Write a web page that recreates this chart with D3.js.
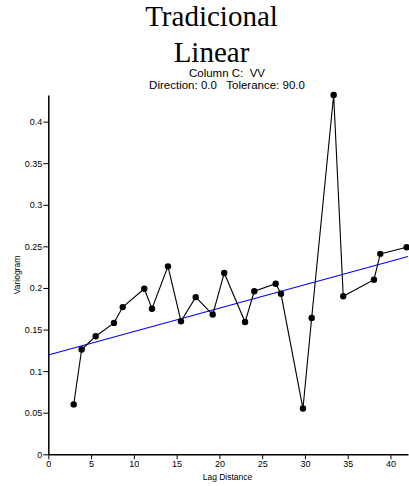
<!DOCTYPE html>
<html>
<head>
<meta charset="utf-8">
<script src="https://cdn.jsdelivr.net/npm/d3@7"></script>
<style>
  html, body { margin: 0; padding: 0; background: #fff; }
  svg { display: block; }
  .axis path, .axis line { stroke: #000; }
  .axis text { font-family: "Liberation Sans", Arial, sans-serif; font-size: 9px; fill: #000; }
</style>
</head>
<body>
<svg id="chart" width="409" height="486"></svg>
<script>
// Experimental variogram: lag distance vs. semivariance
const lagDistance = [2.97, 3.90, 5.54, 7.68, 8.70, 11.22, 12.12, 13.99, 15.51, 17.23, 19.22, 20.57,
                     23.00, 24.08, 26.58, 27.20, 29.77, 30.79, 33.36, 34.48, 38.07, 38.81, 41.89];
const variogram   = [0.060, 0.126, 0.142, 0.158, 0.177, 0.199, 0.175, 0.226, 0.160, 0.189, 0.168, 0.218,
                     0.159, 0.196, 0.205, 0.193, 0.055, 0.164, 0.432, 0.190, 0.210, 0.241, 0.249];

// Linear model: gamma(h) = nugget + slope * h
const modelNugget = 0.1193;
const modelSlope = 0.00282;

const xTicks = [0, 5, 10, 15, 20, 25, 30, 35, 40];
const yTicks = [0, 0.05, 0.1, 0.15, 0.2, 0.25, 0.3, 0.35, 0.4];

const titleLines = ["Tradicional", "Linear"];
const subtitleLines = ["Column C:  VV", "Direction: 0.0   Tolerance: 90.0"];

const svg = d3.select("#chart");

const x = d3.scaleLinear().domain([0, 42.05]).range([48.3, 408]);
const y = d3.scaleLinear().domain([0, d3.max(variogram)]).range([454.3, 95]);

// Titles
svg.selectAll("text.title")
  .data(titleLines)
  .join("text")
  .attr("class", "title")
  .attr("x", 211.5)
  .attr("y", (d, i) => 26 + i * 35.5)
  .attr("text-anchor", "middle")
  .style("font-family", "'Liberation Serif', 'Times New Roman', serif")
  .style("font-size", "29px")
  .text(d => d);

svg.selectAll("text.subtitle")
  .data(subtitleLines)
  .join("text")
  .attr("class", "subtitle")
  .attr("x", 227)
  .attr("y", (d, i) => 76.5 + i * 12.5)
  .attr("text-anchor", "middle")
  .style("font-family", "'Liberation Sans', Arial, sans-serif")
  .style("font-size", "11.5px")
  .style("white-space", "pre")
  .attr("xml:space", "preserve")
  .text(d => d);

// Axes
svg.append("g")
  .attr("class", "axis")
  .attr("transform", `translate(0,${y(0)})`)
  .call(d3.axisBottom(x).tickValues(xTicks).tickFormat(d3.format("d")).tickSize(5).tickPadding(1).tickSizeOuter(0))
  .call(g => g.select(".domain").attr("stroke-width", 1.5));

svg.append("g")
  .attr("class", "axis")
  .attr("transform", `translate(${x(0)},0)`)
  .call(d3.axisLeft(y).tickValues(yTicks).tickFormat(d => d === 0 ? "0" : String(d)).tickSize(5).tickPadding(1).tickSizeOuter(0))
  .call(g => g.select(".domain").attr("stroke-width", 1.5));

// Axis titles
svg.append("text")
  .attr("x", 227.5)
  .attr("y", 480)
  .attr("text-anchor", "middle")
  .style("font-family", "'Liberation Sans', Arial, sans-serif")
  .style("font-size", "8.5px")
  .text("Lag Distance");

svg.append("text")
  .attr("transform", "translate(19.5,275) rotate(-90)")
  .attr("text-anchor", "middle")
  .style("font-family", "'Liberation Sans', Arial, sans-serif")
  .style("font-size", "8.5px")
  .text("Variogram");

// Model line
const xEnd = x.domain()[1];
svg.append("line")
  .attr("x1", x(0)).attr("y1", y(modelNugget))
  .attr("x2", x(xEnd)).attr("y2", y(modelNugget + modelSlope * xEnd))
  .attr("stroke", "#0000ff")
  .attr("stroke-width", 1.1);

// Experimental points
const pts = lagDistance.map((h, i) => [h, variogram[i]]);
svg.append("path")
  .datum(pts)
  .attr("fill", "none")
  .attr("stroke", "#000")
  .attr("stroke-width", 1.1)
  .attr("d", d3.line().x(d => x(d[0])).y(d => y(d[1])));

svg.selectAll("circle.pt")
  .data(pts)
  .join("circle")
  .attr("class", "pt")
  .attr("cx", d => x(d[0]))
  .attr("cy", d => y(d[1]))
  .attr("r", 3.2)
  .attr("fill", "#000");
</script>
</body>
</html>
